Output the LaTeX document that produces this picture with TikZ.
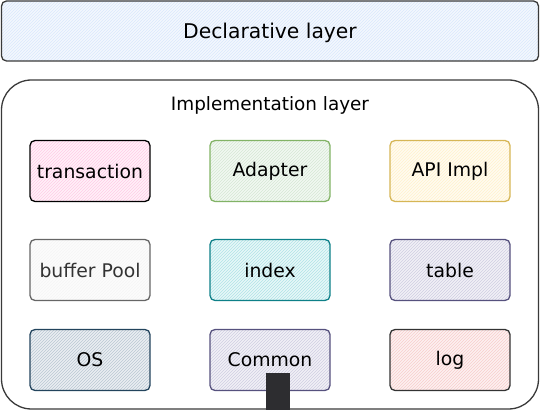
\documentclass[tikz,border=0pt]{standalone}
\usepackage{fontspec}
\setmainfont{DejaVu Sans}
\usetikzlibrary{patterns}
\definecolor{declfill}{HTML}{DAE8FC}
\definecolor{declline}{HTML}{3A3A3A}
\definecolor{transfill}{HTML}{FFCCE6}
\definecolor{adfill}{HTML}{D5E8D4}
\definecolor{adline}{HTML}{82B366}
\definecolor{apifill}{HTML}{FFF2CC}
\definecolor{apiline}{HTML}{D6B656}
\definecolor{buffill}{HTML}{F5F5F5}
\definecolor{bufline}{HTML}{666666}
\definecolor{idxfill}{HTML}{B0E3E6}
\definecolor{idxline}{HTML}{0E8088}
\definecolor{tabfill}{HTML}{D0CEE2}
\definecolor{tabline}{HTML}{56517E}
\definecolor{osfill}{HTML}{BAC8D3}
\definecolor{osline}{HTML}{23445D}
\definecolor{logfill}{HTML}{F8CECC}
\definecolor{logline}{HTML}{333333}
\definecolor{portfill}{HTML}{2D2D30}
\tikzset{
  hatched/.style={fill=#1!30!white, postaction={pattern=north east lines, pattern color=#1}},
  rim/.style={postaction={draw=#1, line width=1.3pt}},
  modbox/.style={rectangle, rounded corners=5pt, minimum width=120pt, minimum height=61pt, inner sep=0pt, font=\fontsize{18.8}{22}\selectfont},
  layerbox/.style={rectangle, inner sep=0pt},
}
\begin{document}
\begin{tikzpicture}[x=1pt,y=-1pt]
\useasboundingbox (0,0) rectangle (541,411);
\node[layerbox, rounded corners=5pt, minimum width=537pt, minimum height=60pt, hatched=declfill, rim=declline] (decl) at (270,31) {};
\node[font=\fontsize{20.3}{24}\selectfont, inner sep=0pt] (decllabel) at (270,33) {Declarative layer};
\node[layerbox, rounded corners=30pt, minimum width=537pt, minimum height=329pt, rim=declline] (impl) at (270,244.5) {};
\node[font=\fontsize{18.4}{22}\selectfont, inner sep=0pt] (impllabel) at (270,105) {Implementation layer};
\node[modbox, hatched=transfill, rim=black] (trans) at (90,171) {transaction};
\node[modbox, hatched=adfill, rim=adline] (adapter) at (270,171) {Adapter};
\node[modbox, hatched=apifill, rim=apiline] (api) at (450,171) {API Impl};
\node[modbox, hatched=buffill, rim=bufline, text=black!80] (buffer) at (90,270) {buffer Pool};
\node[modbox, hatched=idxfill, rim=idxline] (index) at (270,270) {index};
\node[modbox, hatched=tabfill, rim=tabline] (table) at (450,270) {table};
\node[modbox, hatched=osfill, rim=osline] (os) at (90,360) {OS};
\node[modbox, hatched=tabfill, rim=tabline] (common) at (270,360) {Common};
\node[modbox, hatched=logfill, rim=logline] (log) at (450,360) {log};
\node[rectangle, fill=portfill, minimum width=24pt, minimum height=37pt, inner sep=0pt] (port) at (278,391.5) {};
\end{tikzpicture}
\end{document}
